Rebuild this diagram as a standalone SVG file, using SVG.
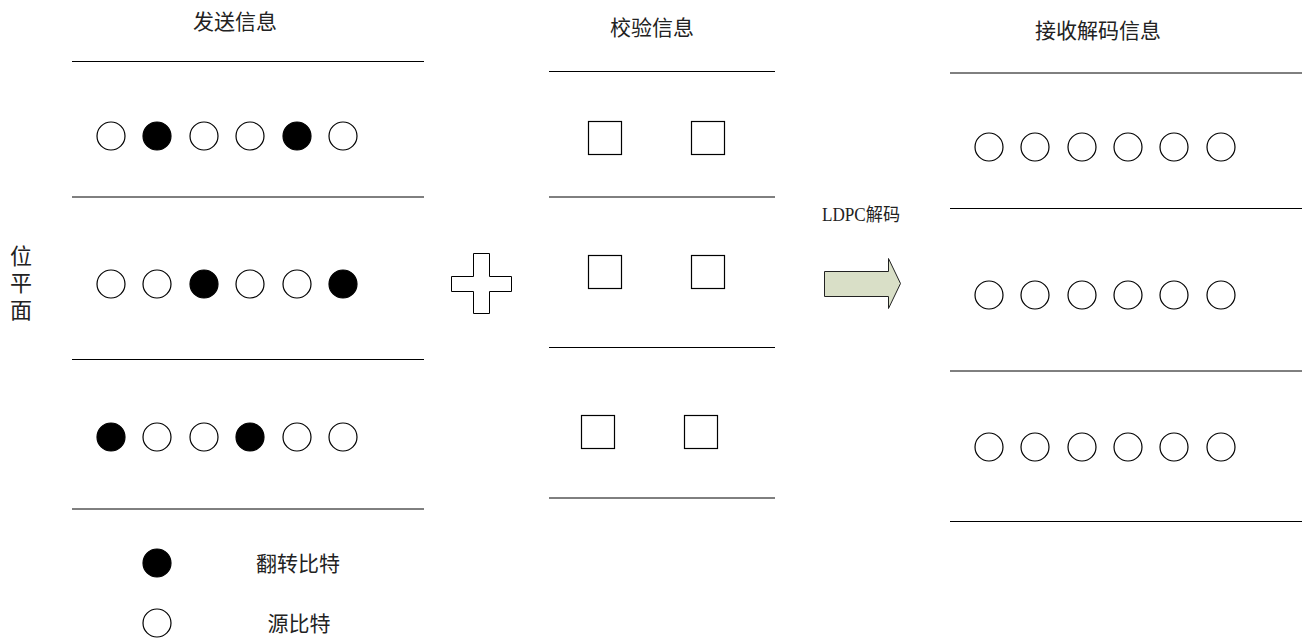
<svg xmlns="http://www.w3.org/2000/svg" width="1307" height="639" viewBox="0 0 1307 639">
<style>
.t{font-family:"Noto Sans CJK SC","Liberation Sans",sans-serif;font-size:21px;fill:#222;text-anchor:middle}
.ln{stroke:#000;stroke-width:1}
.o{fill:#fff;stroke:#000;stroke-width:1.2}
.f{fill:#000;stroke:#000;stroke-width:1.2}
.sq{fill:#fff;stroke:#000;stroke-width:1.2}
</style>
<rect width="1307" height="639" fill="#fff"/>
<g id="title-send"><text class="t" x="235" y="29">发送信息</text></g>
<g id="title-check"><text class="t" x="652" y="35">校验信息</text></g>
<g id="title-recv"><text class="t" x="1098" y="38">接收解码信息</text></g>
<g id="bitplane-label"><text class="t" style="font-size:22px;writing-mode:vertical-rl;text-anchor:start;letter-spacing:5px" x="21" y="245">位平面</text></g>
<g id="send-lines">
<line class="ln" x1="72" y1="61.5" x2="424" y2="61.5"/>
<line class="ln" x1="72" y1="197" x2="424" y2="197"/>
<line class="ln" x1="72" y1="359.5" x2="424" y2="359.5"/>
<line class="ln" x1="72" y1="509" x2="424" y2="509"/>
</g>
<g id="send-row1">
<circle class="o" cx="111" cy="136" r="14"/><circle class="f" cx="157" cy="136" r="14"/><circle class="o" cx="204" cy="136" r="14"/><circle class="o" cx="250" cy="136" r="14"/><circle class="f" cx="297" cy="136" r="14"/><circle class="o" cx="343" cy="136" r="14"/>
</g>
<g id="send-row2">
<circle class="o" cx="111" cy="284" r="14"/><circle class="o" cx="157" cy="284" r="14"/><circle class="f" cx="204" cy="284" r="14"/><circle class="o" cx="250" cy="284" r="14"/><circle class="o" cx="297" cy="284" r="14"/><circle class="f" cx="343" cy="284" r="14"/>
</g>
<g id="send-row3">
<circle class="f" cx="111" cy="437" r="14"/><circle class="o" cx="157" cy="437" r="14"/><circle class="o" cx="204" cy="437" r="14"/><circle class="f" cx="250" cy="437" r="14"/><circle class="o" cx="297" cy="437" r="14"/><circle class="o" cx="343" cy="437" r="14"/>
</g>
<g id="legend-flip"><circle class="f" cx="157" cy="563" r="14"/><text class="t" x="298" y="571">翻转比特</text></g>
<g id="legend-src"><circle class="o" cx="157" cy="623" r="14"/><text class="t" x="299" y="631">源比特</text></g>
<g id="plus"><path d="M473.5 253.5H489.5V276.5H511.5V291.5H489.5V313.5H473.5V291.5H451.5V276.5H473.5Z" fill="#fff" stroke="#000" stroke-width="1"/></g>
<g id="check-lines">
<line class="ln" x1="549" y1="71.5" x2="775" y2="71.5"/>
<line class="ln" x1="549" y1="197" x2="775" y2="197"/>
<line class="ln" x1="549" y1="347.5" x2="775" y2="347.5"/>
<line class="ln" x1="549" y1="498" x2="775" y2="498"/>
</g>
<g id="check-row1"><rect class="sq" x="588.5" y="121.5" width="33" height="33"/><rect class="sq" x="691.5" y="121.5" width="33" height="33"/></g>
<g id="check-row2"><rect class="sq" x="588.5" y="255.5" width="33" height="33"/><rect class="sq" x="691.5" y="255.5" width="33" height="33"/></g>
<g id="check-row3"><rect class="sq" x="581.5" y="415.5" width="33" height="33"/><rect class="sq" x="684.5" y="415.5" width="33" height="33"/></g>
<g id="decode-arrow">
<text x="861" y="221" style="font-family:'Liberation Serif','Noto Sans CJK SC',serif;font-size:18px;fill:#222;text-anchor:middle" textLength="78" lengthAdjust="spacingAndGlyphs">LDPC解码</text>
<path d="M824.5 271.5H888.5V258.5L900.5 283.5L888.5 308.5V296.5H824.5Z" fill="#d9dfc7" stroke="#222" stroke-width="1"/>
</g>
<g id="recv-lines">
<line class="ln" x1="950" y1="73" x2="1302" y2="73"/>
<line class="ln" x1="950" y1="208.5" x2="1302" y2="208.5"/>
<line class="ln" x1="950" y1="371" x2="1302" y2="371"/>
<line class="ln" x1="950" y1="521.5" x2="1302" y2="521.5"/>
</g>
<g id="recv-row1">
<circle class="o" cx="989" cy="147" r="14"/><circle class="o" cx="1035" cy="147" r="14"/><circle class="o" cx="1082" cy="147" r="14"/><circle class="o" cx="1128" cy="147" r="14"/><circle class="o" cx="1174" cy="147" r="14"/><circle class="o" cx="1221" cy="147" r="14"/>
</g>
<g id="recv-row2">
<circle class="o" cx="989" cy="295" r="14"/><circle class="o" cx="1035" cy="295" r="14"/><circle class="o" cx="1082" cy="295" r="14"/><circle class="o" cx="1128" cy="295" r="14"/><circle class="o" cx="1174" cy="295" r="14"/><circle class="o" cx="1221" cy="295" r="14"/>
</g>
<g id="recv-row3">
<circle class="o" cx="989" cy="447" r="14"/><circle class="o" cx="1035" cy="447" r="14"/><circle class="o" cx="1082" cy="447" r="14"/><circle class="o" cx="1128" cy="447" r="14"/><circle class="o" cx="1174" cy="447" r="14"/><circle class="o" cx="1221" cy="447" r="14"/>
</g>
<g id="connectors"></g>
</svg>
